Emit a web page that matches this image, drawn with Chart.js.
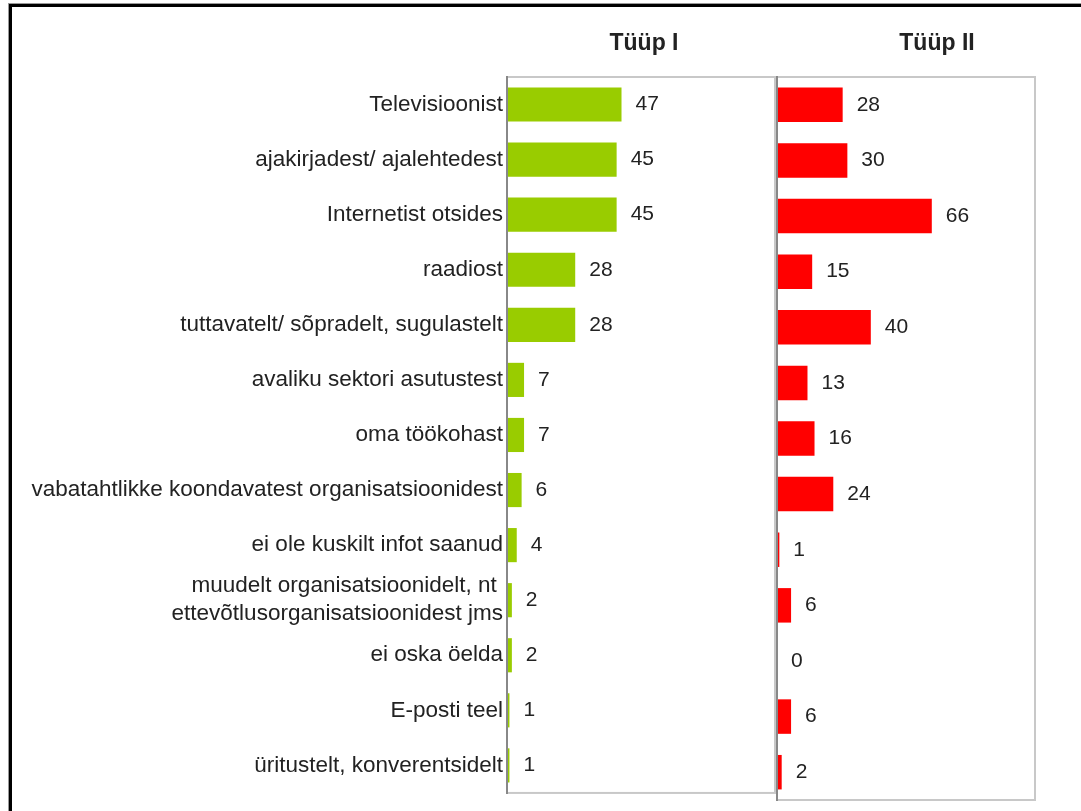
<!DOCTYPE html>
<html>
<head>
<meta charset="utf-8">
<script src="https://cdn.jsdelivr.net/npm/chart.js@4"></script>
<style>
  body { margin: 0; background: #fff; overflow: hidden; }
  #frame { position: absolute; left: 9px; top: 4px; width: 1200px; height: 1000px; border: 3px solid #000; box-shadow: 0 0 0 1px #999; }
  canvas { position: absolute; left: 0; top: 0; }
</style>
</head>
<body>
<div id="frame"></div>
<canvas id="chartLeft" width="1081" height="811"></canvas>
<canvas id="chartRight" width="1081" height="811"></canvas>
<script>
const categories = [
  'Televisioonist',
  'ajakirjadest/ ajalehtedest',
  'Internetist otsides',
  'raadiost',
  'tuttavatelt/ sõpradelt, sugulastelt',
  'avaliku sektori asutustest',
  'oma töökohast',
  'vabatahtlikke koondavatest organisatsioonidest',
  'ei ole kuskilt infot saanud',
  ['muudelt organisatsioonidelt, nt ', 'ettevõtlusorganisatsioonidest jms'],
  'ei oska öelda',
  'E-posti teel',
  'üritustelt, konverentsidelt'
];
const tyyp1 = [47, 45, 45, 28, 28, 7, 7, 6, 4, 2, 2, 1, 1];
const tyyp2 = [28, 30, 66, 15, 40, 13, 16, 24, 1, 6, 0, 6, 2];
const titles = ['Tüüp I', 'Tüüp II'];

const fontFamily = '"Liberation Sans", Arial, sans-serif';
const textColor = '#222';

// title above the panel, values next to bars, panel border
const panelPlugin = {
  id: 'panel',
  afterDatasetsDraw(chart, args, opts) {
    const ctx = chart.ctx;
    const a = chart.chartArea;
    ctx.save();
    ctx.strokeStyle = '#c8c8c8';
    ctx.lineWidth = 2;
    ctx.strokeRect(a.left, a.top, a.right - a.left, a.bottom - a.top);
    ctx.strokeStyle = '#888';
    ctx.beginPath();
    ctx.moveTo(a.left, a.top - 1);
    ctx.lineTo(a.left, a.bottom + 1);
    ctx.stroke();

    ctx.fillStyle = textColor;
    ctx.font = '21px ' + fontFamily;
    ctx.textAlign = 'left';
    ctx.textBaseline = 'middle';
    const meta = chart.getDatasetMeta(0);
    const data = chart.data.datasets[0].data;
    meta.data.forEach((bar, i) => {
      ctx.fillText(String(data[i]), bar.x + 14, bar.y);
    });

    ctx.font = 'bold 23px ' + fontFamily;
    ctx.textAlign = 'center';
    ctx.fillText(opts.text, opts.x, 44);
    ctx.restore();
  }
};

function makeChart(id, values, color, title, titleX, showLabels, padding) {
  return new Chart(document.getElementById(id), {
    type: 'bar',
    data: {
      labels: categories,
      datasets: [{
        data: values,
        backgroundColor: color,
        borderWidth: 0,
        barPercentage: 0.62,
        categoryPercentage: 1
      }]
    },
    options: {
      indexAxis: 'y',
      responsive: false,
      animation: false,
      layout: { padding: padding },
      plugins: {
        legend: { display: false },
        tooltip: { enabled: false },
        panel: { text: title, x: titleX }
      },
      scales: {
        x: { display: false, min: 0, max: 110 },
        y: {
          display: showLabels,
          grid: { display: false, drawTicks: false },
          border: { display: false },
          ticks: {
            color: textColor,
            padding: 4,
            autoSkip: false,
            font: { family: fontFamily, size: 22.5, lineHeight: 1.25 }
          },
          afterFit(scale) {
            if (showLabels) scale.width = 507;
          }
        }
      }
    },
    plugins: [panelPlugin]
  });
}

makeChart('chartLeft', tyyp1, '#99cc00', titles[0], 644, true, { left: 0, right: 306, top: 77, bottom: 14 });
makeChart('chartRight', tyyp2, '#ff0000', titles[1], 937, false, { left: 777, right: 46, top: 77, bottom: 11 });
</script>
</body>
</html>
